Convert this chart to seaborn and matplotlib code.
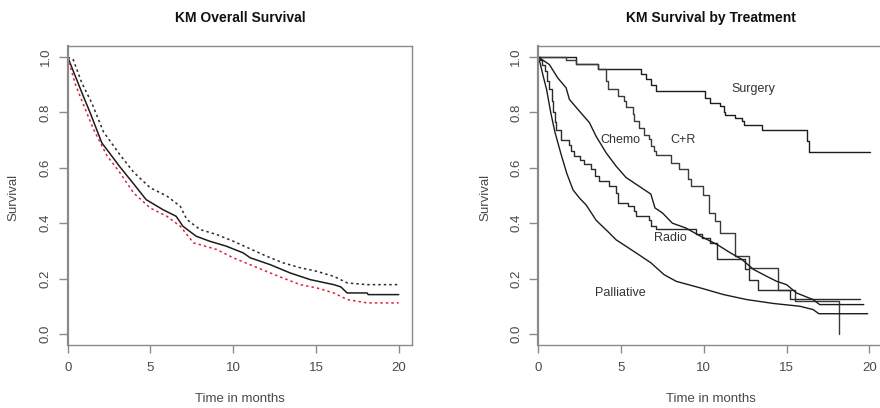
import matplotlib
matplotlib.use("Agg")
import matplotlib.pyplot as plt
import seaborn as sns

# ---------------- data ----------------
# Left panel: overall KM estimate with confidence band
overall_time = [0, 0.54, 0.94, 1.35, 2.06, 2.42, 3.12, 3.93, 4.74, 5.75, 6.55, 6.96, 7.76, 8.57,
                9.58, 10.59, 11.03, 12.24, 13.45, 14.66, 16.07, 16.5, 16.88, 18.09, 18.15, 20.0]
overall_surv = [1.0, 0.919, 0.859, 0.80, 0.69, 0.662, 0.606, 0.546, 0.485, 0.449, 0.425, 0.389, 0.353, 0.335,
                0.317, 0.293, 0.275, 0.25, 0.22, 0.196, 0.178, 0.17, 0.148, 0.148, 0.142, 0.142]

upper_time = [0, 0.34, 0.85, 1.45, 2.16, 3.06, 3.97, 4.98, 5.99, 6.8, 7.2, 8.0, 9.0, 10.0, 12.0, 13.0,
              14.05, 15.06, 16.07, 16.9, 18.1, 20.0]
upper_ci = [1.0, 0.99, 0.907, 0.835, 0.73, 0.655, 0.585, 0.528, 0.498, 0.461, 0.413, 0.377, 0.359, 0.335,
            0.281, 0.257, 0.239, 0.226, 0.208, 0.184, 0.178, 0.178]

lower_time = [0, 0.44, 0.94, 1.55, 2.36, 3.16, 3.97, 4.98, 5.99, 6.8, 7.6, 9.0, 10.0, 12.0, 13.0,
              14.05, 15.06, 16.07, 16.9, 18.1, 20.0]
lower_ci = [1.0, 0.905, 0.83, 0.74, 0.645, 0.582, 0.51, 0.455, 0.425, 0.389, 0.329, 0.305, 0.275, 0.226,
            0.202, 0.178, 0.166, 0.148, 0.124, 0.112, 0.112]

# Right panel: KM by treatment
surgery_time = [0, 2.3, 3.6, 6.2, 6.5, 6.8, 7.1, 10.1, 10.4, 11.0, 11.2, 11.3, 11.9, 12.3, 12.4,
                13.5, 16.25, 16.35, 20.05]
surgery_surv = [1.0, 0.975, 0.958, 0.94, 0.92, 0.90, 0.877, 0.853, 0.835, 0.823, 0.80, 0.79, 0.78, 0.768, 0.753,
                0.735, 0.697, 0.658, 0.658]

cr_time = [0, 1.7, 2.3, 3.6, 4.1, 4.2, 4.8, 5.2, 5.3, 5.7, 5.8, 6.1, 6.4, 6.7, 6.8, 7.0, 7.1, 8.0, 8.5,
           9.07, 9.2, 9.98, 10.3, 10.7, 11.0, 11.9, 12.7, 14.5, 15.5, 18.15]
cr_surv = [1.0, 0.99, 0.975, 0.958, 0.913, 0.883, 0.859, 0.84, 0.82, 0.793, 0.77, 0.745, 0.72, 0.705, 0.68,
           0.66, 0.648, 0.618, 0.594, 0.558, 0.533, 0.503, 0.437, 0.407, 0.365, 0.28, 0.238, 0.16, 0.12, 0.0]

radio_time = [0, 0.1, 0.25, 0.4, 0.55, 0.67, 0.8, 0.9, 1.0, 1.07, 1.37, 1.88, 2.0, 2.18, 2.5, 2.78, 3.19,
              3.4, 3.69, 4.3, 4.7, 4.8, 5.4, 5.8, 5.9, 6.7, 6.8, 7.1, 9.5, 9.9, 10.4, 10.8, 12.5, 12.7,
              13.3, 15.2, 19.46]
radio_surv = [1.0, 0.99, 0.97, 0.95, 0.915, 0.883, 0.84, 0.80, 0.765, 0.738, 0.702, 0.684, 0.66, 0.642, 0.63,
              0.612, 0.594, 0.57, 0.552, 0.533, 0.51, 0.473, 0.461, 0.443, 0.425, 0.413, 0.39, 0.38, 0.36,
              0.345, 0.33, 0.27, 0.235, 0.196, 0.16, 0.127, 0.127]

chemo_time = [0, 0.67, 1.17, 1.68, 1.88, 2.48, 3.09, 3.49, 4.1, 4.7, 5.3, 6.1, 6.8, 7.05, 7.5, 8.1, 8.9,
              9.8, 10.8, 11.6, 12.3, 13.0, 13.8, 14.4, 15.0, 15.6, 16.6, 17.0, 19.66]
chemo_surv = [1.0, 0.973, 0.925, 0.889, 0.847, 0.805, 0.763, 0.714, 0.654, 0.606, 0.565, 0.533, 0.505, 0.455,
              0.437, 0.40, 0.383, 0.353, 0.323, 0.293, 0.269, 0.233, 0.208, 0.19, 0.178, 0.148, 0.124, 0.106,
              0.106]

palliative_time = [0, 0.1, 0.3, 0.5, 0.75, 1.0, 1.37, 1.72, 2.1, 2.5, 2.9, 3.5, 4.2, 4.7, 5.9, 6.8, 7.6,
                   8.33, 9.8, 11.2, 12.6, 14.2, 15.8, 16.6, 16.95, 19.9]
palliative_surv = [1.0, 0.98, 0.93, 0.883, 0.80, 0.73, 0.65, 0.58, 0.52, 0.49, 0.465, 0.41, 0.37, 0.34, 0.293,
                   0.257, 0.214, 0.19, 0.166, 0.142, 0.124, 0.11, 0.10, 0.088, 0.073, 0.073]

curve_labels = ["Surgery", "C+R", "Chemo", "Radio", "Palliative"]
label_time = [12.99, 8.75, 4.97, 7.99, 4.97]
label_surv = [0.883, 0.70, 0.70, 0.347, 0.147]

x_ticks = [0, 5, 10, 15, 20]
y_ticks = [0.0, 0.2, 0.4, 0.6, 0.8, 1.0]
y_ticklabels = ["0.0", "0.2", "0.4", "0.6", "0.8", "1.0"]

titles = ["KM Overall Survival", "KM Survival by Treatment"]
xlabel = "Time in months"
ylabel = "Survival"

# ---------------- style ----------------
sns.set_theme(style="white")
plt.rcParams["font.family"] = ["Liberation Sans", "DejaVu Sans"]

W, H = 880, 408
fig = plt.figure(figsize=(W / 100, H / 100), dpi=100)
fig.patch.set_facecolor("white")

ax_w = 344.3 / W
ax_h = 299 / H
ax_b = (H - 345) / H
axL = fig.add_axes([67.7 / W, ax_b, ax_w, ax_h])
axR = fig.add_axes([538.3 / W, ax_b, ax_w, ax_h])

LINE = "#1c1c1c"
AXC = "#8a8a8a"
TXT = "#4a4a4a"


def line(ax, x, y, steps=False, **kw):
    extra = {"drawstyle": "steps-post"} if steps else {}
    sns.lineplot(x=x, y=y, ax=ax, estimator=None, sort=False, **extra, **kw)


# left panel
line(axL, overall_time, overall_surv, color=LINE, linewidth=1.1)
line(axL, upper_time, upper_ci, color="#2a2a2a", linewidth=1.1, linestyle=(0, (1.6, 2.0)))
line(axL, lower_time, lower_ci, color="#e0203c", linewidth=1.1, linestyle=(0, (1.6, 2.0)))

# right panel
line(axR, surgery_time, surgery_surv, steps=True, color=LINE, linewidth=1.0)
line(axR, cr_time, cr_surv, steps=True, color="#3a3a3a", linewidth=1.0)
line(axR, radio_time, radio_surv, steps=True, color="#2a2a2a", linewidth=1.0)
line(axR, chemo_time, chemo_surv, color=LINE, linewidth=1.0)
line(axR, palliative_time, palliative_surv, color=LINE, linewidth=1.0)

for lab, t, s in zip(curve_labels, label_time, label_surv):
    axR.text(t, s, lab, ha="center", va="center", fontsize=9, color="#333333")

for ax, title in zip((axL, axR), titles):
    ax.set_xlim(0, 20.8)
    ax.set_ylim(-0.04, 1.04)
    ax.set_xticks(x_ticks)
    ax.set_xticklabels([str(v) for v in x_ticks], fontsize=9.5, color=TXT)
    ax.set_yticks(y_ticks)
    ax.set_yticklabels(y_ticklabels, fontsize=9.5, color=TXT, rotation=90, va="center")
    ax.tick_params(axis="x", bottom=True, direction="out", length=6, width=1.0, color=AXC, pad=6)
    ax.tick_params(axis="y", left=True, direction="out", length=6.5, width=1.0, color=AXC, pad=5)
    for sp in ax.spines.values():
        sp.set_color(AXC)
        sp.set_linewidth(1.0)
        sp.set_visible(True)
    ax.spines["left"].set_linewidth(1.6)
    ax.set_xlabel(xlabel, fontsize=9.5, color=TXT)
    ax.xaxis.set_label_coords(0.5, -0.18)
    ax.xaxis.label.set_va("center")
    ax.set_ylabel(ylabel, fontsize=9.5, color=TXT)
    ax.yaxis.label.set_va("center")
    ax.set_title(title, fontsize=10, fontweight="bold", color="#111111", pad=17)
    ax.grid(False)

axL.yaxis.set_label_coords(-0.159, 0.495)
axR.yaxis.set_label_coords(-0.155, 0.495)

fig.savefig("out.png", dpi=100, facecolor="white")
